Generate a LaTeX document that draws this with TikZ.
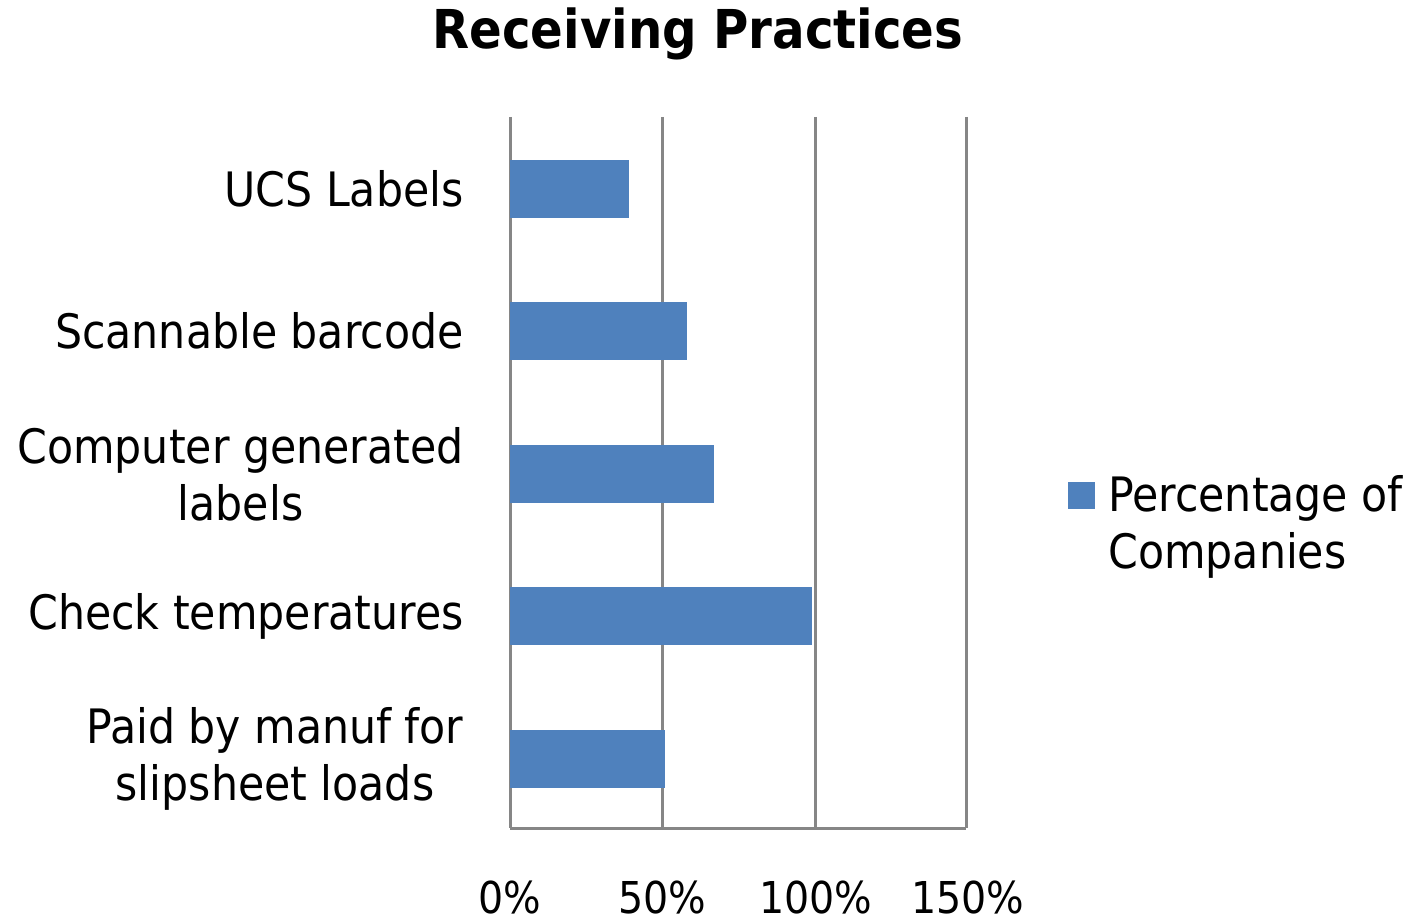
\documentclass[tikz,border=0pt]{standalone}
\usepackage{fontspec}
\setmainfont{DejaVu Sans Condensed}
\usetikzlibrary{positioning}
\definecolor{barblue}{RGB}{79, 129, 189}
\definecolor{gridgray}{RGB}{134, 134, 134}

\begin{document}
\begin{tikzpicture}[x=0.02cm, y=-0.02cm,
  catlabel/.style={font=\fontsize{27}{32.5}\selectfont, anchor=east, align=center, inner sep=0pt},
  ticklabel/.style={font=\fontsize{25}{30}\selectfont, anchor=base, inner sep=0pt},
  barfill/.style={fill=barblue, draw=none},
  gridline/.style={draw=gridgray, line width=1.7pt}]
  \useasboundingbox (0, 0) rectangle (1416, 922);

  % Title
  \node[font=\fontsize{30.5}{36}\selectfont\bfseries, anchor=base] (title) at (698, 49) {Receiving Practices};

  % Grid lines and axis
  \coordinate (origin) at (510, 828);
  \coordinate (xend) at (966, 828);
  \foreach \gx in {510, 662, 815, 966} {
    \draw[gridline] (\gx, 117) -- (\gx, 828);
  }
  \draw[gridline] (origin) -- (xend);

  % Bars (value in percent)
  \foreach \by/\bval in {189/39, 331/58, 474/67, 616/99, 759/51} {
    \fill[barfill] (510, \by-29) rectangle ({510 + 3.047*\bval}, \by+29);
  }

  % Category labels
  \node[catlabel] (lucs)  at (464, 189) {UCS Labels};
  \node[catlabel] (lscan) at (464, 331) {Scannable barcode};
  \node[catlabel] (lcomp) at (464, 474) {Computer generated\\labels};
  \node[catlabel] (ltemp) at (464, 616) {Check temperatures};
  \node[catlabel] (lpaid) at (464, 759) {Paid by manuf for\\slipsheet loads};

  % Axis tick labels
  \node[ticklabel] (t0)   at (510, 913) {0\%};
  \node[ticklabel] (t50)  at (662, 913) {50\%};
  \node[ticklabel] (t100) at (816, 913) {100\%};
  \node[ticklabel] (t150) at (968, 913) {150\%};

  % Legend
  \fill[barfill] (1068, 482) rectangle (1095, 509);
  \node[font=\fontsize{27}{32.5}\selectfont, anchor=west, align=left, inner sep=0pt] (legend) at (1108, 527) {Percentage of\\Companies};
\end{tikzpicture}
\end{document}
